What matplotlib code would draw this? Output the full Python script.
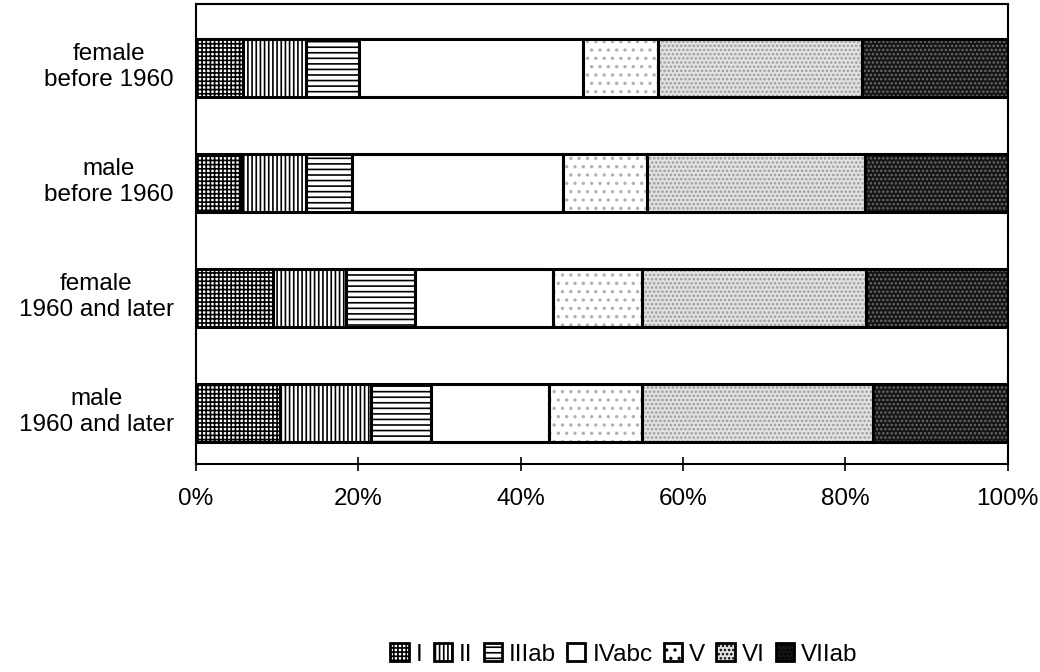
import numpy as np
import matplotlib
matplotlib.use("Agg")
import matplotlib.pyplot as plt
import matplotlib.transforms as mtransforms

plt.rcParams['font.family'] = ['Liberation Sans', 'DejaVu Sans']
plt.rcParams['hatch.linewidth'] = 1.2

# class shares (percent) per group, top row first
groups = ["female\nbefore 1960", "male\nbefore 1960",
          "female\n1960 and later", "male\n1960 and later"]
classes = ["I", "II", "IIIab", "IVabc", "V", "VI", "VIIab"]
share_I = [5.8, 5.5, 9.5, 10.3]
share_II = [7.7, 8.0, 9.0, 11.3]
share_III = [6.6, 5.7, 8.5, 7.3]
share_IV = [27.6, 26.0, 17.0, 14.6]
share_V = [9.2, 10.3, 10.9, 11.5]
share_VI = [25.1, 26.9, 27.6, 28.4]
share_VII = [18.0, 17.6, 17.5, 16.6]
shares = [share_I, share_II, share_III, share_IV, share_V, share_VI, share_VII]

# fill, hatch, hatch colour for each class
styles = [
    ("white", "++++", "black"),
    ("white", "||||", "black"),
    ("white", "---", "black"),
    ("white", "", "black"),
    ("white", "..", "#b0b0b0"),
    ("#e2e2e2", "....", "#9a9a9a"),
    ("#151515", "....", "#6a6a6a"),
]

fig = plt.figure(figsize=(10.4, 6.72), dpi=100)
ax = fig.add_axes([0.1885, 0.3095, 0.7805, 0.6845])

pos = np.arange(len(groups))[::-1]
left = np.zeros(len(groups))
handles = []
for name, vals, (fc, hatch, hc) in zip(classes, shares, styles):
    vals = np.array(vals)
    ax.barh(pos, vals, left=left, height=0.51, color=fc, hatch=hatch,
            edgecolor=hc, linewidth=0)
    ax.barh(pos, vals, left=left, height=0.51, fill=False,
            edgecolor="black", linewidth=2.2)
    left += vals
    handles.append(plt.Rectangle((0, 0), 1, 1, facecolor=fc, hatch=hatch,
                                 edgecolor="black", linewidth=2))

ax.set_xlim(0, 100)
ax.set_ylim(-0.443, 3.557)
ax.set_xticks(np.arange(0, 101, 20))
ax.set_xticklabels([f"{v}%" for v in range(0, 101, 20)], fontsize=17.5)
ax.set_yticks(pos)
ax.set_yticklabels(groups, fontsize=17.5, linespacing=1.25)
ax.tick_params(axis="y", length=0, pad=16)
ax.tick_params(axis="x", direction="inout", length=10, width=1.2, pad=12)

# group labels sit a little above the bar centres
shift = mtransforms.ScaledTranslation(0, 6 / 100, fig.dpi_scale_trans)
for lab in ax.get_yticklabels():
    lab.set_multialignment("center")
    lab.set_transform(lab.get_transform() + shift)

for side in ["left", "bottom"]:
    ax.spines[side].set_linewidth(1.5)
for side in ["top", "right"]:
    ax.spines[side].set_linewidth(1.5)
    ax.spines[side].set_linestyle((0, (1, 0.6)))

fig.legend(handles, classes, loc="center", bbox_to_anchor=(0.6, 0.026),
           ncol=7, frameon=False, fontsize=17.5, handlelength=0.75,
           handleheight=0.75, handletextpad=0.3, columnspacing=0.45)

fig.savefig("out.png", dpi=100)
